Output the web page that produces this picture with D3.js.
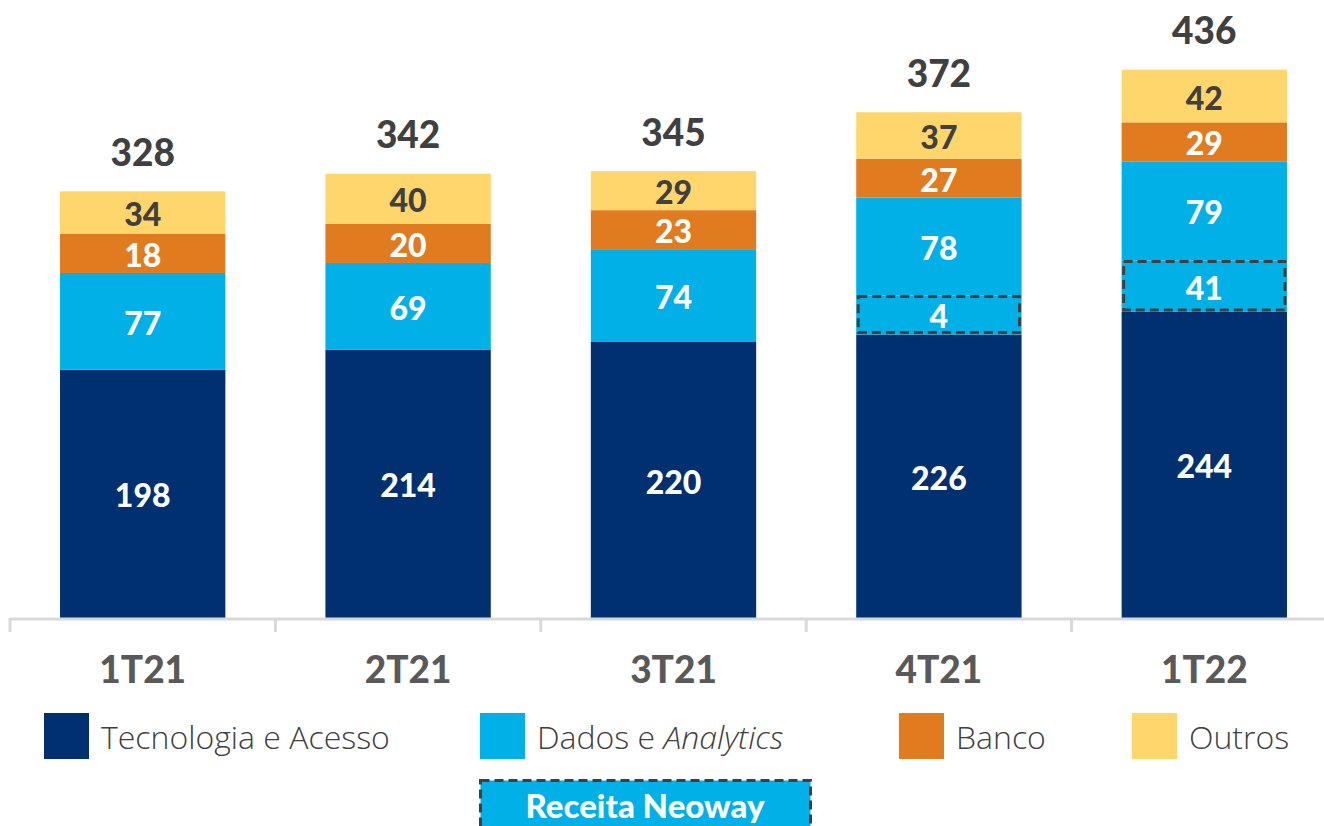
<!DOCTYPE html>
<html>
<head>
<meta charset="utf-8">
<script src="https://cdn.jsdelivr.net/npm/d3@7"></script>
<style>
  body { margin: 0; background: #fff; }
  svg { display: block; }
  .num { font-family: Lato, "DejaVu Sans", sans-serif; font-weight: 900; }
  .leg { font-family: "Open Sans", sans-serif; font-weight: 300; }
</style>
</head>
<body>
<script>
// chart values
var quarters = ["1T21", "2T21", "3T21", "4T21", "1T22"];
var tecnologia = [198, 214, 220, 226, 244];
var neoway = [0, 0, 0, 4, 41];     // Receita Neoway, part of Dados e Analytics
var dados = [77, 69, 74, 78, 79];
var banco = [18, 20, 23, 27, 29];
var outros = [34, 40, 29, 37, 42];
var totals = [328, 342, 345, 372, 436];
var legendNames = ["Tecnologia e Acesso", "Dados e ", "Banco", "Outros"];

var svgWidth = 1324;
var svgHeight = 826;
var baseY = 618;

var svg = d3.select("body").append("svg").attr("width", svgWidth).attr("height", svgHeight);

var x = d3.scaleBand().domain(quarters).range([10, 1337]).paddingInner(0.377).paddingOuter(0.1885);
var y = d3.scaleLinear().domain([0, 440]).range([baseY, 66]);

var layers = [
  { key: "tec", values: tecnologia, fill: "#003070", text: "#fff" },
  { key: "neo", values: neoway, fill: "#00B0E6", text: "#fff" },
  { key: "dados", values: dados, fill: "#00B0E6", text: "#fff" },
  { key: "banco", values: banco, fill: "#E07B20", text: "#fff" },
  { key: "outros", values: outros, fill: "#FFD66B", text: "#404040" }
];

// stack in pixels, small segments get a minimum height so the label fits
var minH = 39;
var segs = [];
var tops = quarters.map(function() { return baseY; });
layers.forEach(function(l) {
  l.values.forEach(function(v, i) {
    if (!v) return;
    var h = Math.max(y(0) - y(v), minH);
    var y1 = tops[i] - h;
    segs.push({ q: quarters[i], v: v, y0: tops[i], y1: y1, layer: l });
    tops[i] = y1;
  });
});

var chartGroup = svg.append("g");

chartGroup.selectAll("rect.seg")
  .data(segs)
  .enter()
  .append("rect")
  .attr("class", "seg")
  .attr("x", d => x(d.q))
  .attr("y", d => d.y1)
  .attr("width", x.bandwidth())
  .attr("height", d => d.y0 - d.y1)
  .attr("fill", d => d.layer.fill);

// dashed boxes for Neoway
chartGroup.selectAll("rect.neo")
  .data(segs.filter(d => d.layer.key == "neo"))
  .enter()
  .append("rect")
  .attr("class", "neo")
  .attr("x", d => x(d.q) + 2)
  .attr("y", d => d.y1 + 1)
  .attr("width", x.bandwidth() - 4)
  .attr("height", d => d.y0 - d.y1 - 3)
  .attr("fill", "none")
  .attr("stroke", "#404040")
  .attr("stroke-width", 3)
  .attr("stroke-dasharray", "9,5");

chartGroup.selectAll("text.seglab")
  .data(segs)
  .enter()
  .append("text")
  .attr("class", "seglab num")
  .attr("x", d => x(d.q) + x.bandwidth() / 2)
  .attr("y", d => (d.y0 + d.y1) / 2 + 1)
  .attr("text-anchor", "middle")
  .attr("dominant-baseline", "central")
  .attr("font-size", 32)
  .attr("fill", d => d.layer.text)
  .text(d => d.v);

// totals on top
chartGroup.selectAll("text.total")
  .data(quarters)
  .enter()
  .append("text")
  .attr("class", "total num")
  .attr("x", d => x(d) + x.bandwidth() / 2)
  .attr("y", (d, i) => tops[i] - 40)
  .attr("text-anchor", "middle")
  .attr("dominant-baseline", "central")
  .attr("font-size", 37)
  .attr("fill", "#404040")
  .text((d, i) => totals[i]);

// x axis
var axisG = svg.append("g");
axisG.append("line")
  .attr("x1", 10).attr("x2", svgWidth)
  .attr("y1", baseY + 1).attr("y2", baseY + 1)
  .attr("stroke", "#d9d9d9").attr("stroke-width", 3);
axisG.selectAll("line.tick")
  .data(quarters)
  .enter()
  .append("line")
  .attr("class", "tick")
  .attr("x1", d => x(d) - x.step() * x.paddingInner() / 2)
  .attr("x2", d => x(d) - x.step() * x.paddingInner() / 2)
  .attr("y1", baseY).attr("y2", baseY + 14)
  .attr("stroke", "#d9d9d9").attr("stroke-width", 3);
axisG.selectAll("text.cat")
  .data(quarters)
  .enter()
  .append("text")
  .attr("class", "cat num")
  .attr("x", d => x(d) + x.bandwidth() / 2)
  .attr("y", 668)
  .attr("text-anchor", "middle")
  .attr("dominant-baseline", "central")
  .attr("font-size", 37)
  .attr("fill", "#595959")
  .text(d => d);

// legend
var legX = [44, 480, 899, 1132];
var legColors = ["#003070", "#00B0E6", "#E07B20", "#FFD66B"];
var leg = svg.selectAll("g.legend")
  .data(legendNames)
  .enter()
  .append("g")
  .attr("class", "legend")
  .attr("transform", (d, i) => `translate(${legX[i]}, 713)`);
leg.append("rect")
  .attr("width", 45).attr("height", 46)
  .attr("fill", (d, i) => legColors[i]);
var legText = leg.append("text")
  .attr("class", "leg")
  .attr("x", 57).attr("y", 23)
  .attr("dominant-baseline", "central")
  .attr("font-size", 32)
  .attr("fill", "#404040")
  .text(d => d);
legText.filter((d, i) => i == 1)
  .append("tspan")
  .attr("font-style", "italic")
  .text("Analytics");

// Receita Neoway legend box
var neoLeg = svg.append("g").attr("transform", "translate(479, 779)");
neoLeg.append("rect")
  .attr("x", 1.5).attr("y", 1.5)
  .attr("width", 330).attr("height", 50)
  .attr("fill", "#00B0E6")
  .attr("stroke", "#404040")
  .attr("stroke-width", 3)
  .attr("stroke-dasharray", "9,5");
neoLeg.append("text")
  .attr("class", "num")
  .attr("x", 166).attr("y", 26)
  .attr("text-anchor", "middle")
  .attr("dominant-baseline", "central")
  .attr("font-size", 33)
  .attr("fill", "#fff")
  .text("Receita Neoway");
</script>
</body>
</html>
